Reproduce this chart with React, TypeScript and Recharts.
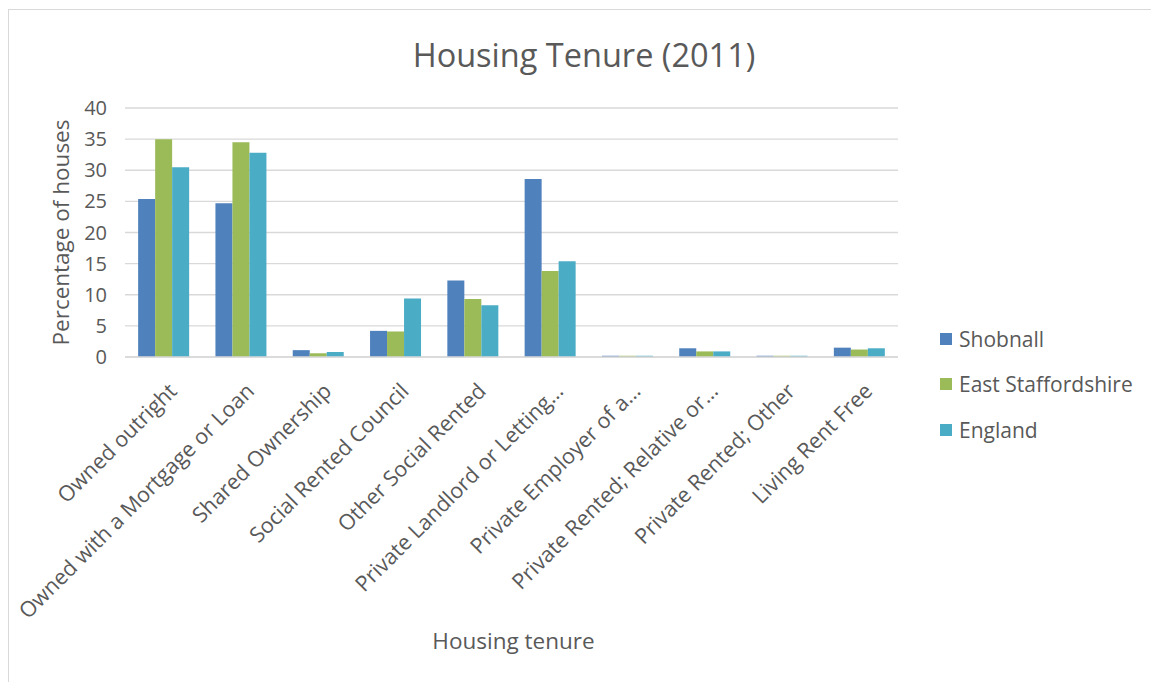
import React from 'react';
import { BarChart, Bar, XAxis, YAxis, CartesianGrid, Legend } from 'recharts';

// Housing tenure, 2011 census — % of households by tenure type.
const categories = [
  'Owned outright',
  'Owned with a Mortgage or Loan',
  'Shared Ownership',
  'Social Rented Council',
  'Other Social Rented',
  'Private Landlord or Letting…',
  'Private Employer of a…',
  'Private Rented; Relative or…',
  'Private Rented; Other',
  'Living Rent Free',
];
const shobnall = [25.4, 24.7, 1.1, 4.2, 12.3, 28.6, 0.2, 1.4, 0.2, 1.5];
const eastStaffordshire = [35.0, 34.5, 0.6, 4.1, 9.3, 13.8, 0.2, 0.9, 0.2, 1.2];
const england = [30.5, 32.8, 0.8, 9.4, 8.3, 15.4, 0.2, 0.9, 0.2, 1.4];
const yTicks = [0, 5, 10, 15, 20, 25, 30, 35, 40];

const series = [
  { key: 'shobnall', name: 'Shobnall', color: '#4F81BD' },
  { key: 'eastStaffordshire', name: 'East Staffordshire', color: '#9BBB59' },
  { key: 'england', name: 'England', color: '#4BACC6' },
];

const data = categories.map((c, i) => ({
  category: c,
  shobnall: shobnall[i],
  eastStaffordshire: eastStaffordshire[i],
  england: england[i],
}));

const FONT = '"Open Sans", sans-serif';
const TEXT = '#595959';

const CategoryTick = ({ x, y, payload }: any) => (
  <g transform={`translate(${x},${y})`}>
    <text
      x={14.5}
      y={35.5}
      transform="rotate(-45, 14.5, 35.5)"
      textAnchor="end"
      fontSize={21.5}
      fontFamily={FONT}
      fill={TEXT}
    >
      {payload.value}
    </text>
  </g>
);

const LegendBox = () => (
  <ul style={{ listStyle: 'none', margin: 0, padding: 0 }}>
    {series.map((s) => (
      <li key={s.key} style={{ height: 45.5, display: 'flex', alignItems: 'center' }}>
        <span style={{ width: 12, height: 12, background: s.color, display: 'inline-block' }} />
        <span style={{ marginLeft: 7, fontSize: 21, fontFamily: FONT, color: TEXT }}>{s.name}</span>
      </li>
    ))}
  </ul>
);

export default function App() {
  return (
    <div style={{ position: 'absolute', left: 0, top: 0, width: 1151, height: 682, overflow: 'hidden', background: '#fff' }}>
      <div
        style={{
          position: 'absolute',
          left: 8,
          top: 9,
          width: 1200,
          height: 700,
          borderTop: '1.5px solid #d9d9d9',
          borderLeft: '1.5px solid #d9d9d9',
        }}
      />
      <div
        style={{
          position: 'absolute',
          left: 0,
          top: 32,
          width: 1168,
          textAlign: 'center',
          fontFamily: FONT,
          fontSize: 32.5,
          color: TEXT,
        }}
      >
        Housing Tenure (2011)
      </div>
      <div style={{ position: 'absolute', left: 0, top: 0 }}>
        <BarChart
          width={1151}
          height={682}
          data={data}
          margin={{ top: 108, right: 40, left: 40, bottom: 30 }}
          barCategoryGap="17%"
          barGap={0}
        >
          <CartesianGrid vertical={false} stroke="#d9d9d9" strokeWidth={1.3} />
          <XAxis
            dataKey="category"
            interval={0}
            height={295}
            tickSize={0}
            tickMargin={0}
            tickLine={false}
            axisLine={{ stroke: '#d9d9d9', strokeWidth: 1.3 }}
            tick={<CategoryTick />}
            label={{
              content: ({ viewBox }: any) => (
                <text
                  x={viewBox.x + viewBox.width / 2 + 2}
                  y={viewBox.y + 292}
                  textAnchor="middle"
                  fontSize={22.5}
                  fontFamily={FONT}
                  fill={TEXT}
                >
                  Housing tenure
                </text>
              ),
            }}
          />
          <YAxis
            width={85}
            domain={[0, 40]}
            ticks={yTicks}
            interval={0}
            tickSize={0}
            tickMargin={18}
            tickLine={false}
            axisLine={false}
            tick={{ fontSize: 20, fontFamily: FONT, fill: TEXT }}
            label={{
              content: ({ viewBox }: any) => {
                const lx = viewBox.x + 29;
                const ly = viewBox.y + viewBox.height / 2;
                return (
                  <text
                    x={lx}
                    y={ly}
                    transform={`rotate(-90, ${lx}, ${ly})`}
                    textAnchor="middle"
                    fontSize={22.5}
                    fontFamily={FONT}
                    fill={TEXT}
                  >
                    Percentage of houses
                  </text>
                );
              },
            }}
          />
          <Legend
            layout="vertical"
            align="right"
            verticalAlign="middle"
            width={213}
            wrapperStyle={{ left: 940, top: 316 }}
            content={<LegendBox />}
          />
          {series.map((s) => (
            <Bar key={s.key} dataKey={s.key} name={s.name} fill={s.color} isAnimationActive={false} />
          ))}
        </BarChart>
      </div>
    </div>
  );
}
